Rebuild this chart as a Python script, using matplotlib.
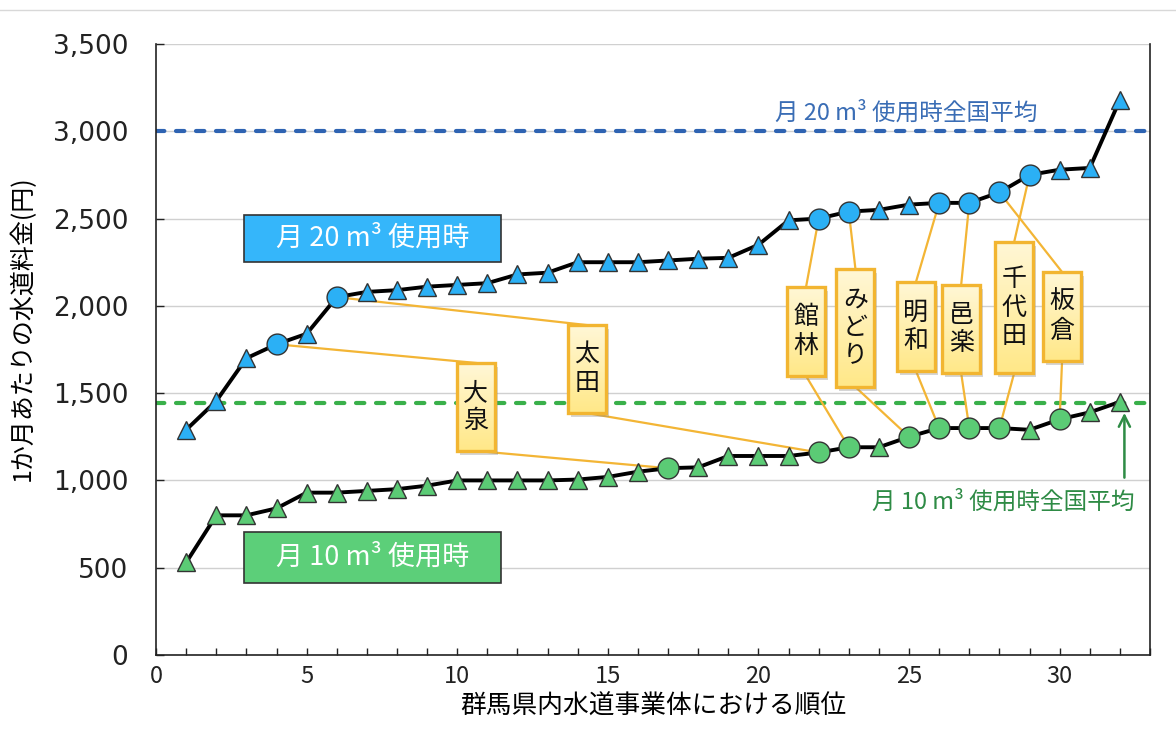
import matplotlib
matplotlib.use("Agg")
import matplotlib.pyplot as plt
import numpy as np
from matplotlib.patches import Rectangle
from matplotlib.colors import LinearSegmentedColormap
from matplotlib.lines import Line2D
from matplotlib.ticker import MultipleLocator, FuncFormatter
import matplotlib.transforms as mtransforms

plt.rcParams['font.family'] = ['Noto Sans CJK JP', 'DejaVu Sans']

# ranking of water utilities in Gunma (1 = cheapest)
rank = list(range(1, 33))
fee_20m3 = [1290, 1455, 1700, 1780, 1840, 2050, 2080, 2090, 2110, 2120, 2130, 2180,
            2190, 2250, 2250, 2250, 2260, 2270, 2275, 2350, 2490, 2500, 2540, 2550,
            2580, 2590, 2590, 2650, 2750, 2780, 2790, 3180]
fee_10m3 = [530, 800, 800, 840, 930, 930, 940, 950, 970, 1000, 1000, 1000,
            1000, 1005, 1020, 1050, 1070, 1075, 1140, 1140, 1140, 1160, 1190, 1190,
            1250, 1300, 1300, 1300, 1290, 1350, 1390, 1450]
avg_20m3 = 3000
avg_10m3 = 1443

# highlighted utilities: name, rank for 20 m3, rank for 10 m3
names = ['大泉', '太田', '館林', 'みどり', '明和', '邑楽', '千代田', '板倉']
rank20_of = [4, 6, 22, 23, 26, 27, 29, 28]
rank10_of = [17, 22, 23, 25, 26, 27, 28, 30]

# callout box layout (x centre, y bottom, y top in data units)
box_x = [10.62, 14.30, 21.58, 23.22, 25.23, 26.73, 28.49, 30.08]
box_y0 = [1169, 1386, 1598, 1535, 1627, 1615, 1615, 1684]
box_y1 = [1673, 1890, 2108, 2211, 2137, 2120, 2366, 2194]
box_w = 1.26

blue = '#2BB0F5'
green = '#5BCB75'
blue_avg = '#2E63B2'
green_avg = '#39B04A'

fig = plt.figure(figsize=(11.76, 7.46), dpi=100)
ax = fig.add_axes([0.1327, 0.1220, 0.8452, 0.8190])
ax.set_xlim(0, 33)
ax.set_ylim(0, 3500)

ax.yaxis.set_major_locator(MultipleLocator(500))
ax.yaxis.set_major_formatter(FuncFormatter(lambda v, p: f'{int(v):,}'))
ax.xaxis.set_major_locator(MultipleLocator(5))
ax.xaxis.set_minor_locator(MultipleLocator(1))
ax.grid(axis='y', color='#d0d0d0', lw=1, zorder=0)
ax.set_axisbelow(True)
ax.tick_params(axis='y', direction='in', length=6, width=1, labelsize=19, pad=20, colors='#222222')
ax.tick_params(axis='x', which='both', direction='in', length=5, width=1, labelsize=17, pad=7, colors='#222222')
for lab in ax.get_yticklabels():
    lab.set_family(['DejaVu Sans'])
ax.spines['top'].set_visible(False)
for s in ['left', 'bottom', 'right']:
    ax.spines[s].set_linewidth(1.2)
    ax.spines[s].set_color('#222222')

ax.set_xlabel('群馬県内水道事業体における順位', fontsize=18.5, labelpad=4)
fig.text(0.019, 0.56, '1か月あたりの水道料金(円)', rotation=90, fontsize=18,
         ha='center', va='center')

# national averages
ax.axhline(avg_20m3, color=blue_avg, lw=3, dashes=(2.0, 2.8), dash_capstyle='round', zorder=1.5)
ax.axhline(avg_10m3, color=green_avg, lw=3, dashes=(2.0, 2.8), dash_capstyle='round', zorder=1.5)
ax.text(29.25, avg_20m3 + 40, '月 20 m³ 使用時全国平均', color='#3A6DB5', fontsize=17,
        ha='right', va='bottom', zorder=6)
ax.text(32.47, 876, '月 10 m³ 使用時全国平均', color='#2E8B45', fontsize=17,
        ha='right', va='center', zorder=6)
ax.annotate('', xy=(32.15, avg_10m3 - 40), xytext=(32.15, 1000),
            arrowprops=dict(arrowstyle='->,head_length=0.8,head_width=0.4',
                            color='#2E8B45', lw=1.8), zorder=6)

# callout connectors (under markers)
for i, nm in enumerate(names):
    r20, r10 = rank20_of[i], rank10_of[i]
    ax.plot([rank[r20 - 1], box_x[i]], [fee_20m3[r20 - 1], box_y1[i]],
            color='#F3B535', lw=1.6, zorder=2.5)
    ax.plot([box_x[i], rank[r10 - 1]], [box_y0[i], fee_10m3[r10 - 1]],
            color='#F3B535', lw=1.6, zorder=2.5)

# series
for fees, rk, col in [(fee_20m3, rank20_of, blue), (fee_10m3, rank10_of, green)]:
    ax.plot(rank, fees, color='black', lw=2.8, zorder=3)
    tri_x = [r for r in rank if r not in rk]
    tri_y = [fees[r - 1] for r in tri_x]
    ax.plot(tri_x, tri_y, ls='none', marker='^', ms=13, mfc=col, mec='#333333', mew=1, zorder=4)
    cx = sorted(rk)
    cy = [fees[r - 1] for r in cx]
    ax.plot(cx, cy, ls='none', marker='o', ms=15, mfc=col, mec='#333333', mew=1, zorder=4)

# callout boxes with gradient fill and shadow
grad_cmap = LinearSegmentedColormap.from_list('g', ['#FFE888', '#FFF7D6'])
grad = np.linspace(0, 1, 64).reshape(-1, 1)
shadow_tr = ax.transData + mtransforms.ScaledTranslation(3 / 100, -4 / 100, fig.dpi_scale_trans)
for i, nm in enumerate(names):
    x0 = box_x[i] - box_w / 2
    ax.add_patch(Rectangle((x0, box_y0[i]), box_w, box_y1[i] - box_y0[i], transform=shadow_tr,
                           facecolor='#888888', alpha=0.35, edgecolor='none', zorder=5))
    ax.imshow(grad, extent=[x0, x0 + box_w, box_y0[i], box_y1[i]], origin='lower',
              cmap=grad_cmap, aspect='auto', zorder=5.5, interpolation='bilinear')
    ax.add_patch(Rectangle((x0, box_y0[i]), box_w, box_y1[i] - box_y0[i], facecolor='none',
                           edgecolor='#F2B531', lw=2.4, zorder=6))
    ax.text(box_x[i], (box_y0[i] + box_y1[i]) / 2, '\n'.join(nm), fontsize=18,
            ha='center', va='center', linespacing=1.12, color='#111111', zorder=7)

ax.set_xlim(0, 33)
ax.set_ylim(0, 3500)

# series label boxes
for y0, y1, col, txt in [(2251, 2520, '#35B6FA', '月 20 m³ 使用時'),
                         (412, 705, '#5CCF79', '月 10 m³ 使用時')]:
    ax.add_patch(Rectangle((2.92, y0), 11.45 - 2.92, y1 - y0, facecolor=col,
                           edgecolor='#333333', lw=1.2, zorder=6))
    ax.text((2.92 + 11.45) / 2, (y0 + y1) / 2, txt, color='white', fontsize=19.5,
            ha='center', va='center', zorder=7)

# page separator line at top
fig.add_artist(Line2D([0, 1], [0.987, 0.987], color='#d8d8d8', lw=1, transform=fig.transFigure))

fig.savefig('out.png', dpi=100)
